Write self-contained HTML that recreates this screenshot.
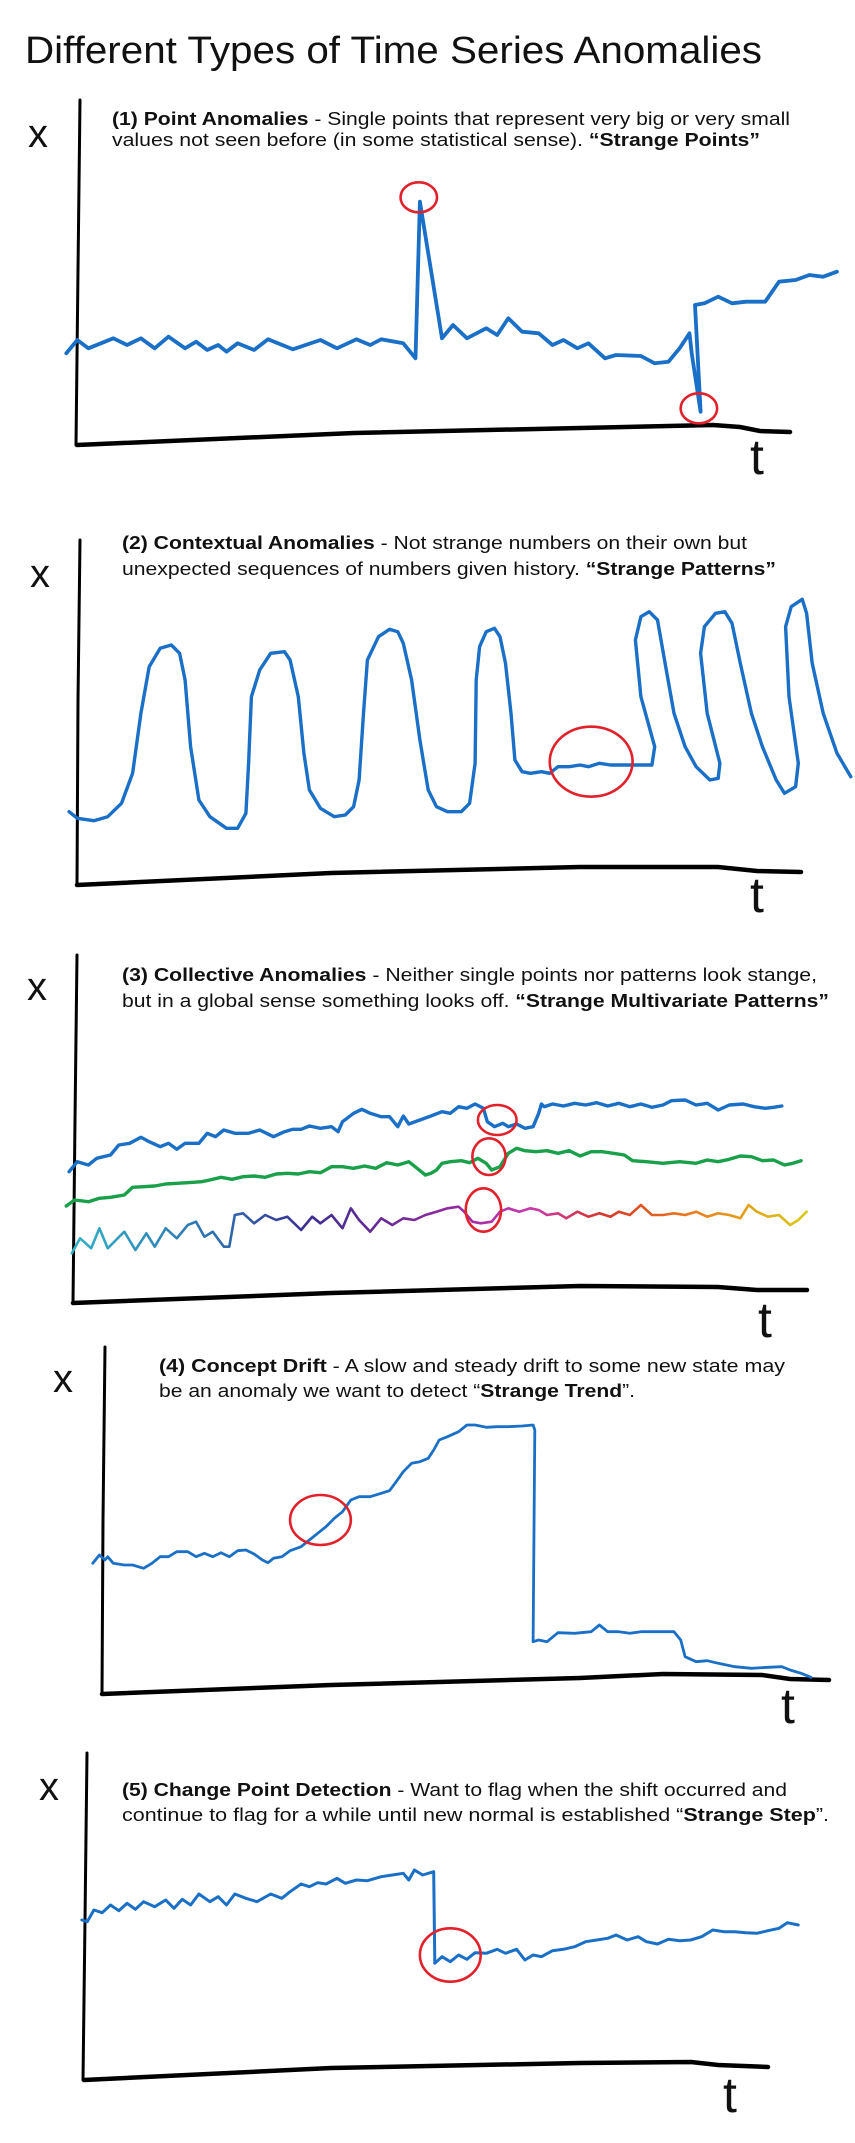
<!DOCTYPE html>
<html><head><meta charset="utf-8"><title>Different Types of Time Series Anomalies</title>
<style>
html,body{margin:0;padding:0;background:#fff;}
svg{display:block;}
text{font-family:"Liberation Sans",sans-serif;fill:#111;}
</style></head>
<body>
<svg id="chart" width="855" height="2143" viewBox="0 0 855 2143" xmlns="http://www.w3.org/2000/svg">
<defs>
<linearGradient id="rainbow" gradientUnits="userSpaceOnUse" x1="70" y1="0" x2="810" y2="0">
<stop offset="0" stop-color="#33b3c6"/><stop offset="0.2" stop-color="#2f6fb0"/><stop offset="0.32" stop-color="#3b2f8f"/><stop offset="0.5" stop-color="#8a2a9a"/><stop offset="0.62" stop-color="#c83ab0"/><stop offset="0.72" stop-color="#d6362a"/><stop offset="0.85" stop-color="#e8821e"/><stop offset="1" stop-color="#d8cc18"/>
</linearGradient>
</defs>
<text x="25" y="63" font-size="38" textLength="737" lengthAdjust="spacingAndGlyphs">Different Types of Time Series Anomalies</text>

<!-- Panel 1 -->
<g>
<text x="112" y="125" font-size="18" textLength="678" lengthAdjust="spacingAndGlyphs"><tspan font-weight="bold">(1) Point Anomalies</tspan> - Single points that represent very big or very small</text>
<text x="112" y="146" font-size="18" textLength="648" lengthAdjust="spacingAndGlyphs">values not seen before (in some statistical sense). <tspan font-weight="bold">“Strange Points”</tspan></text>
<path d="M80,100 L78,270 L76,445" stroke="#000" stroke-width="3" fill="none" stroke-linecap="round"/>
<path d="M77,445 L354,433 L713,425 L740,427 L760,431 L790,432" stroke="#000" stroke-width="4.5" fill="none" stroke-linecap="round"/>
<text x="28" y="147" font-size="40">x</text>
<text x="750" y="474" font-size="50">t</text>
</g>

<!-- Panel 2 -->
<g>
<text x="122" y="549" font-size="18" textLength="625" lengthAdjust="spacingAndGlyphs"><tspan font-weight="bold">(2) Contextual Anomalies</tspan> - Not strange numbers on their own but</text>
<text x="122" y="575" font-size="18" textLength="654" lengthAdjust="spacingAndGlyphs">unexpected sequences of numbers given history. <tspan font-weight="bold">“Strange Patterns”</tspan></text>
<path d="M80,540 L78,700 L77,885" stroke="#000" stroke-width="3" fill="none" stroke-linecap="round"/>
<path d="M77,885 L331,873 L580,867 L718,867 L757,871 L801,872" stroke="#000" stroke-width="4.5" fill="none" stroke-linecap="round"/>
<text x="30" y="587" font-size="40">x</text>
<text x="750" y="912" font-size="50">t</text>
</g>

<!-- Panel 3 -->
<g>
<text x="122" y="981" font-size="18" textLength="695" lengthAdjust="spacingAndGlyphs"><tspan font-weight="bold">(3) Collective Anomalies</tspan> - Neither single points nor patterns look stange,</text>
<text x="122" y="1007" font-size="18" textLength="707" lengthAdjust="spacingAndGlyphs">but in a global sense something looks off. <tspan font-weight="bold">“Strange Multivariate Patterns”</tspan></text>
<path d="M77,955 L75,1120 L73,1303" stroke="#000" stroke-width="3" fill="none" stroke-linecap="round"/>
<path d="M73,1303 L331,1293 L580,1286 L718,1287 L757,1290 L807,1290" stroke="#000" stroke-width="4.5" fill="none" stroke-linecap="round"/>
<text x="27" y="1000" font-size="40">x</text>
<text x="758" y="1337" font-size="50">t</text>
</g>

<!-- Panel 4 -->
<g>
<text x="159" y="1372" font-size="18" textLength="626" lengthAdjust="spacingAndGlyphs"><tspan font-weight="bold">(4) Concept Drift</tspan> - A slow and steady drift to some new state may</text>
<text x="159" y="1397" font-size="18" textLength="476" lengthAdjust="spacingAndGlyphs">be an anomaly we want to detect “<tspan font-weight="bold">Strange Trend</tspan>”.</text>
<path d="M105,1347 L103,1520 L102,1694" stroke="#000" stroke-width="3" fill="none" stroke-linecap="round"/>
<path d="M102,1694 L331,1685 L580,1678 L663,1674 L762,1675 L790,1679 L829,1680" stroke="#000" stroke-width="4.5" fill="none" stroke-linecap="round"/>
<text x="53" y="1392" font-size="40">x</text>
<text x="781" y="1723" font-size="50">t</text>
</g>

<!-- Panel 5 -->
<g>
<text x="122" y="1796" font-size="18" textLength="665" lengthAdjust="spacingAndGlyphs"><tspan font-weight="bold">(5) Change Point Detection</tspan> - Want to flag when the shift occurred and</text>
<text x="122" y="1821" font-size="18" textLength="707" lengthAdjust="spacingAndGlyphs">continue to flag for a while until new normal is established “<tspan font-weight="bold">Strange Step</tspan>”.</text>
<path d="M87,1753 L85,1920 L83,2080" stroke="#000" stroke-width="3" fill="none" stroke-linecap="round"/>
<path d="M84,2080 L331,2068 L580,2063 L691,2062 L718,2065 L768,2067" stroke="#000" stroke-width="4.5" fill="none" stroke-linecap="round"/>
<text x="39" y="1800" font-size="40">x</text>
<text x="723" y="2112" font-size="50">t</text>
</g>
<g id="marks"></g>
</svg>
<script>
// Time values (t) and depth values (d: distance below panel reference, larger = lower)
const p1Time = [120,140,160,205,230,255,280,305,335,355,375,395,410,430,460,485,530,580,610,645,670,690,730,752,760,800,820,845,880,900,920,945,975,1000,1020,1045,1065,1095,1115,1160,1185,1210,1230,1248,1252,1268,1258,1275,1300,1325,1350,1385,1410,1440,1465,1490,1515];
const p1Depth = [1060,1020,1045,1015,1035,1015,1045,1010,1045,1025,1050,1035,1055,1030,1050,1018,1048,1020,1045,1018,1035,1018,1030,1075,605,1015,975,1015,985,1005,955,995,1000,1035,1020,1045,1030,1075,1065,1068,1090,1085,1045,1000,1060,1235,915,910,890,910,905,905,845,840,825,830,815];
const p1Circles = [[758,592],[1265,1225]];

const p2Time = [125,140,170,195,220,240,255,270,290,310,325,335,345,360,380,410,430,445,450,455,470,490,515,525,540,550,560,580,605,625,640,650,658,665,685,705,720,730,745,760,775,790,810,835,850,860,862,868,880,895,905,915,925,932,945,960,980,995,1010,1030,1050,1065,1085,1105,1125,1150,1180,1185,1160,1150,1160,1175,1190,1205,1220,1240,1260,1285,1300,1303,1280,1268,1275,1295,1312,1325,1340,1360,1380,1405,1420,1440,1445,1428,1422,1432,1452,1460,1470,1490,1515,1540];
const p2Depth = [995,1015,1022,1010,970,880,700,560,505,495,520,600,800,960,1010,1045,1045,1000,850,650,570,520,515,540,650,820,930,985,1010,1005,980,900,700,540,470,448,455,490,600,780,930,980,995,995,970,850,600,500,455,445,470,550,700,840,875,880,875,880,860,860,855,860,850,855,855,855,855,800,650,480,410,395,420,560,700,800,860,900,895,850,700,520,440,400,395,430,550,700,800,900,940,920,850,650,440,380,358,400,550,700,820,890];
const p2Circles = [[1070,845,75,105]];

const p3BlueTime = [125,140,160,175,200,215,235,255,270,290,305,320,335,360,375,390,405,425,450,470,495,515,530,545,560,580,600,612,620,640,655,670,690,705,720,730,740,760,780,800,815,830,845,860,875,882,895,910,920,935,950,965,975,980,985,1000,1020,1040,1060,1080,1100,1120,1140,1160,1180,1200,1215,1240,1260,1280,1300,1320,1345,1365,1385,1400,1415];
const p3BlueDepth = [815,785,795,775,765,735,730,712,725,740,730,748,730,730,700,710,690,700,700,690,710,695,688,688,678,685,680,695,665,640,628,640,650,650,680,648,672,660,648,635,640,620,625,612,625,665,680,670,680,672,685,680,640,612,620,612,618,610,615,608,618,610,620,612,622,615,602,600,615,610,630,615,612,620,625,622,618];
const p3GreenTime = [120,135,160,180,200,225,240,260,280,300,320,340,365,380,400,420,440,460,480,500,520,540,560,580,600,620,640,660,680,700,720,740,755,770,780,790,800,815,835,850,865,880,890,905,920,935,950,970,990,1010,1030,1050,1070,1090,1110,1130,1145,1170,1200,1230,1260,1280,1300,1320,1340,1360,1380,1400,1420,1435,1450];
const p3GreenDepth = [918,900,905,895,892,885,862,860,858,852,850,848,845,840,832,838,830,828,832,822,820,822,815,818,800,800,805,798,805,788,795,785,805,825,820,810,790,785,782,788,775,790,810,800,760,745,752,755,752,760,752,768,755,755,760,765,782,785,790,785,790,780,785,778,768,770,782,780,795,790,782];
const p3WaveTime = [130,145,165,180,195,210,225,245,265,280,300,320,340,355,370,385,405,415,425,440,460,480,500,520,545,565,580,600,620,635,650,670,690,710,730,750,770,790,810,830,840,855,870,890,905,920,940,960,975,990,1010,1025,1045,1065,1085,1105,1120,1140,1160,1180,1200,1220,1240,1260,1280,1300,1320,1340,1355,1370,1390,1410,1430,1445,1460];
const p3WaveDepth = [1060,1015,1045,985,1045,1020,995,1050,1000,1040,985,1015,975,965,1010,995,1040,1040,945,940,970,945,960,950,990,950,970,945,985,925,960,995,955,975,955,960,945,935,925,920,935,965,970,965,935,925,935,925,930,945,940,955,935,950,940,950,935,945,915,945,945,940,945,935,950,940,945,955,915,935,950,945,975,960,935];
const p3Circles = [[900,660,35,45],[885,770,30,55],[875,930,32,65]];

const p4Time = [168,180,190,195,205,225,240,260,275,290,305,320,340,355,370,385,400,415,430,445,460,475,485,495,510,525,545,560,575,590,605,620,635,650,670,690,705,715,730,745,760,775,785,795,810,830,845,860,880,900,920,945,965,968,965,975,990,1010,1040,1070,1085,1100,1120,1140,1160,1190,1220,1232,1240,1260,1280,1300,1330,1360,1390,1415,1430,1450,1468];
const p4Depth = [700,675,690,680,700,705,705,715,700,680,680,665,665,680,670,680,668,680,662,660,672,690,698,685,680,662,650,630,610,590,565,545,510,500,500,490,482,460,425,400,395,385,360,330,320,305,285,285,292,290,290,288,285,300,935,930,935,908,910,905,885,905,905,910,905,905,905,930,980,995,992,1000,1010,1015,1012,1010,1020,1030,1042];
const p4Circles = [[580,570,55,75]];

const p5Time = [148,158,170,185,200,215,230,245,260,280,300,315,330,345,360,380,395,410,425,445,465,490,510,525,545,560,575,590,610,625,645,665,690,710,730,740,750,765,785,787,800,815,830,845,860,880,900,915,935,950,965,980,1000,1020,1040,1060,1080,1100,1115,1135,1155,1170,1190,1210,1230,1250,1270,1290,1310,1330,1350,1370,1390,1410,1425,1445];
const p5Depth = [540,545,510,518,495,512,490,508,485,500,480,505,478,495,462,485,470,495,462,475,485,462,475,455,432,440,428,432,415,430,420,422,410,405,400,420,390,405,395,670,650,665,645,658,638,640,628,640,628,660,645,650,632,628,620,605,600,595,585,600,590,605,612,598,602,600,590,570,575,575,578,580,572,565,548,555];
const p5Circles = [[815,645,55,80]];

// axis functions: x from time (sketch units), y from depth (sketch units), per panel offset
const KX = 1/1.81, KY = 1/3;
function xScale(t){ return t*KX; }
function yScale(d, off){ return off + d*KY; }

const NS = 'http://www.w3.org/2000/svg';
const marks = document.getElementById('marks');
function line(times, depths, off, color, width, name){
  let d = '';
  for (let i=0;i<times.length;i++){
    d += (i? ' L':'M') + xScale(times[i]).toFixed(1) + ',' + yScale(depths[i], off).toFixed(1);
  }
  const p = document.createElementNS(NS,'path');
  p.setAttribute('d', d);
  p.setAttribute('fill','none');
  p.setAttribute('stroke', color);
  p.setAttribute('stroke-width', width);
  p.setAttribute('stroke-linejoin','round');
  p.setAttribute('stroke-linecap','round');
  
  
  marks.appendChild(p);
}
function circle(c, off, rxd, ryd, name){
  const e = document.createElementNS(NS,'ellipse');
  e.setAttribute('cx', xScale(c[0]));
  e.setAttribute('cy', yScale(c[1], off));
  e.setAttribute('rx', (c[2]!==undefined? c[2]: rxd)*KX);
  e.setAttribute('ry', (c[3]!==undefined? c[3]: ryd)*KY);
  e.setAttribute('fill','none');
  e.setAttribute('stroke','#e0222c');
  e.setAttribute('stroke-width','2.6');
  
  
  marks.appendChild(e);
}
const BLUE = '#1a6fc6';
line(p1Time, p1Depth, 0, BLUE, 3.8, 'panel1-series');
p1Circles.forEach(c => circle(c, 0, 33, 45, 'panel1-anomaly-circle'));
line(p2Time, p2Depth, 480, BLUE, 3.4, 'panel2-series');
p2Circles.forEach(c => circle(c, 480, 75, 105, 'panel2-anomaly-circle'));
line(p3BlueTime, p3BlueDepth, 900, BLUE, 3.4, 'panel3-blue-series');
line(p3GreenTime, p3GreenDepth, 900, '#1aa04a', 3.4, 'panel3-green-series');
line(p3WaveTime, p3WaveDepth, 900, 'url(#rainbow)', 2.6, 'panel3-rainbow-series');
p3Circles.forEach(c => circle(c, 900, 35, 45, 'panel3-anomaly-circle'));
line(p4Time, p4Depth, 1330, BLUE, 2.8, 'panel4-series');
p4Circles.forEach(c => circle(c, 1330, 55, 75, 'panel4-anomaly-circle'));
line(p5Time, p5Depth, 1740, BLUE, 3.0, 'panel5-series');
p5Circles.forEach(c => circle(c, 1740, 55, 80, 'panel5-anomaly-circle'));
</script>
</body></html>
